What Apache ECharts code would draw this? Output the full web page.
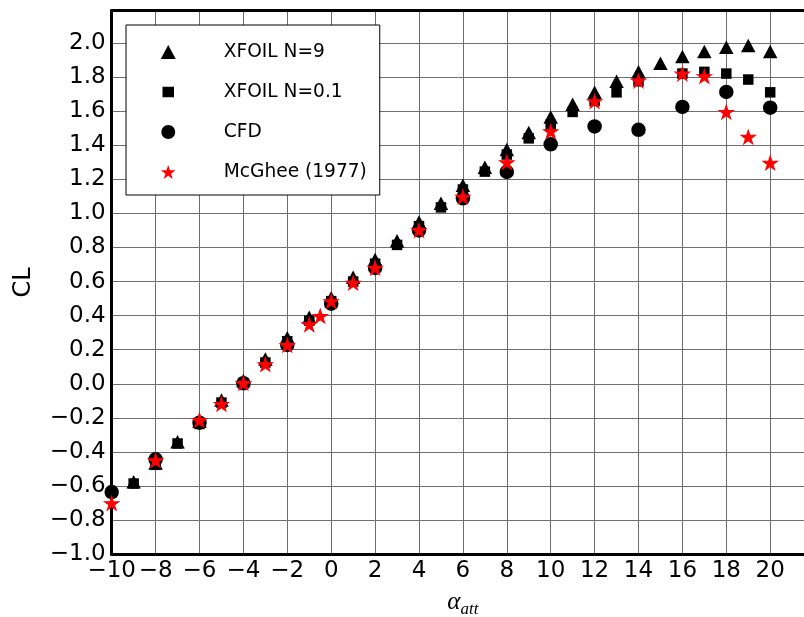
<!DOCTYPE html>
<html>
<head>
<meta charset="utf-8">
<title>CL vs angle of attack</title>
<script src="https://cdn.jsdelivr.net/npm/echarts@6/dist/echarts.min.js"></script>
<style>
  html, body { margin: 0; padding: 0; background: #fff; }
  #chart { width: 804px; height: 617px; }
</style>
</head>
<body>
<div id="chart"></div>
<script>
// Lift coefficient against angle of attack (degrees)
const alphaXfoilN9 = [-9, -8, -7, -6, -5, -4, -3, -2, -1, 0, 1, 2, 3, 4, 5, 6, 7, 8, 9, 10, 11, 12, 13, 14, 15, 16, 17, 18, 19, 20];
const clXfoilN9 = [-0.575, -0.465, -0.34, -0.22, -0.095, 0.02, 0.145, 0.27, 0.39, 0.505, 0.625, 0.73, 0.84, 0.95, 1.06, 1.165, 1.27, 1.375, 1.475, 1.565, 1.64, 1.71, 1.775, 1.83, 1.88, 1.92, 1.95, 1.975, 1.985, 1.95];

const alphaXfoilN01 = [-9, -8, -7, -6, -5, -4, -3, -2, -1, 0, 1, 2, 3, 4, 5, 6, 7, 8, 9, 10, 11, 12, 13, 14, 16, 17, 18, 19, 20];
const clXfoilN01 = [-0.585, -0.475, -0.35, -0.235, -0.11, 0.005, 0.125, 0.25, 0.37, 0.485, 0.6, 0.705, 0.815, 0.925, 1.035, 1.14, 1.245, 1.345, 1.44, 1.52, 1.595, 1.66, 1.71, 1.775, 1.82, 1.83, 1.82, 1.785, 1.71];

const alphaCfd = [-10, -8, -6, -4, -2, 0, 2, 4, 6, 8, 10, 12, 14, 16, 18, 20];
const clCfd = [-0.635, -0.443, -0.228, 0.003, 0.228, 0.47, 0.68, 0.9, 1.088, 1.243, 1.405, 1.51, 1.49, 1.624, 1.712, 1.62];

const alphaMcGhee = [-10, -8, -6, -5, -4, -3, -2, -1, -0.5, 0, 1, 2, 4, 6, 8, 10, 12, 14, 16, 17, 18, 19, 20];
const clMcGhee = [-0.705, -0.453, -0.217, -0.123, 0.0, 0.11, 0.223, 0.344, 0.393, 0.48, 0.588, 0.676, 0.897, 1.093, 1.295, 1.477, 1.653, 1.774, 1.815, 1.8, 1.59, 1.444, 1.292];

// Tick labels shown on each axis
const xTickValues = [-10, -8, -6, -4, -2, 0, 2, 4, 6, 8, 10, 12, 14, 16, 18, 20];
const yTickValues = [-1.0, -0.8, -0.6, -0.4, -0.2, 0.0, 0.2, 0.4, 0.6, 0.8, 1.0, 1.2, 1.4, 1.6, 1.8, 2.0];

const seriesNames = ['XFOIL N=9', 'XFOIL N=0.1', 'CFD', 'McGhee (1977)'];

const STAR = 'path://M100,0L122.45,69.1L195.1,69.1L136.3,111.8L158.8,180.9L100,138.2L41.2,180.9L63.7,111.8L4.9,69.1L77.55,69.1Z';

function pairs(xs, ys) { return xs.map((x, i) => [x, ys[i]]); }
function minusSign(s) { return s.replace('-', '\u2212'); }
function hasTick(list, v) { return list.some(t => Math.abs(t - v) < 1e-6); }

const tickFont = { fontFamily: 'DejaVu Sans', fontSize: 23, color: '#000' };
const gridLine = { show: true, lineStyle: { color: '#6e6e6e', width: 1 } };
const spine = { show: true, onZero: false, lineStyle: { color: '#000', width: 3 } };

const chart = echarts.init(document.getElementById('chart'), null, { renderer: 'canvas' });

chart.setOption({
  animation: false,
  backgroundColor: '#fff',
  grid: { left: 111.7, top: 10.5, width: 702.4, height: 543.8, outerBoundsMode: 'none', containLabel: false },
  xAxis: [{
    type: 'value', min: -10, max: 22, interval: 2,
    axisLine: spine, axisTick: { show: false }, splitLine: gridLine,
    axisLabel: Object.assign({ margin: 5, showMaxLabel: true,
      formatter: v => hasTick(xTickValues, v) ? minusSign(String(v)) : '' }, tickFont),
    name: '{a|\u03B1}{s|att}', nameLocation: 'middle', nameGap: 35,
    nameTextStyle: {
      rich: {
        a: { fontFamily: 'Liberation Serif', fontStyle: 'italic', fontSize: 25, color: '#000', lineHeight: 26, verticalAlign: 'bottom' },
        s: { fontFamily: 'Liberation Serif', fontStyle: 'italic', fontSize: 17, color: '#000', lineHeight: 16, verticalAlign: 'bottom', padding: [0, 0, -3, 0] }
      }
    }
  }, {
    type: 'value', position: 'top', min: -10, max: 22, interval: 2,
    axisLine: spine, axisTick: { show: false }, splitLine: { show: false }, axisLabel: { show: false }
  }],
  yAxis: [{
    type: 'value', min: -1, max: 2.19, interval: 0.2,
    axisLine: spine, axisTick: { show: false }, splitLine: gridLine,
    axisLabel: Object.assign({ margin: 6,
      formatter: v => hasTick(yTickValues, v) ? minusSign(v.toFixed(1)) : '' }, tickFont),
    name: 'CL', nameLocation: 'middle', nameGap: 76,
    nameTextStyle: { fontFamily: 'DejaVu Sans', fontSize: 24, color: '#000' }
  }],
  legend: {
    orient: 'vertical', left: 126, top: 25,
    padding: [17, 4, 13, 33],
    itemWidth: 15, itemHeight: 14, itemGap: 20,
    backgroundColor: '#fff', borderColor: '#000', borderWidth: 1, borderRadius: 0,
    selectedMode: false,
    textStyle: { fontFamily: 'DejaVu Sans', fontSize: 18.6, color: '#000', lineHeight: 20, width: 152, padding: [0, 0, 0, 43] },
    data: [
      { name: seriesNames[0], icon: 'triangle' },
      { name: seriesNames[1], icon: 'rect', itemStyle: { borderColor: '#fff', borderWidth: 3.5 } },
      { name: seriesNames[2], icon: 'circle' },
      { name: seriesNames[3], icon: STAR, itemStyle: { borderWidth: 0 } }
    ]
  },
  series: [
    { type: 'scatter', name: seriesNames[0], symbol: 'triangle', symbolSize: [14.5, 13.5],
      itemStyle: { color: '#000', opacity: 1 }, data: pairs(alphaXfoilN9, clXfoilN9), z: 2 },
    { type: 'scatter', name: seriesNames[1], symbol: 'rect', symbolSize: 10.5,
      itemStyle: { color: '#000', opacity: 1 }, data: pairs(alphaXfoilN01, clXfoilN01), z: 3 },
    { type: 'scatter', name: seriesNames[2], symbol: 'circle', symbolSize: 14.5,
      itemStyle: { color: '#000', opacity: 1 }, data: pairs(alphaCfd, clCfd), z: 4 },
    { type: 'scatter', name: seriesNames[3], symbol: STAR, symbolSize: [14.5, 13.8], symbolOffset: [0, -0.7],
      itemStyle: { color: '#ff0000', borderColor: '#ff0000', borderWidth: 1, opacity: 1 },
      data: pairs(alphaMcGhee, clMcGhee), z: 5 }
  ]
});
</script>
</body>
</html>
